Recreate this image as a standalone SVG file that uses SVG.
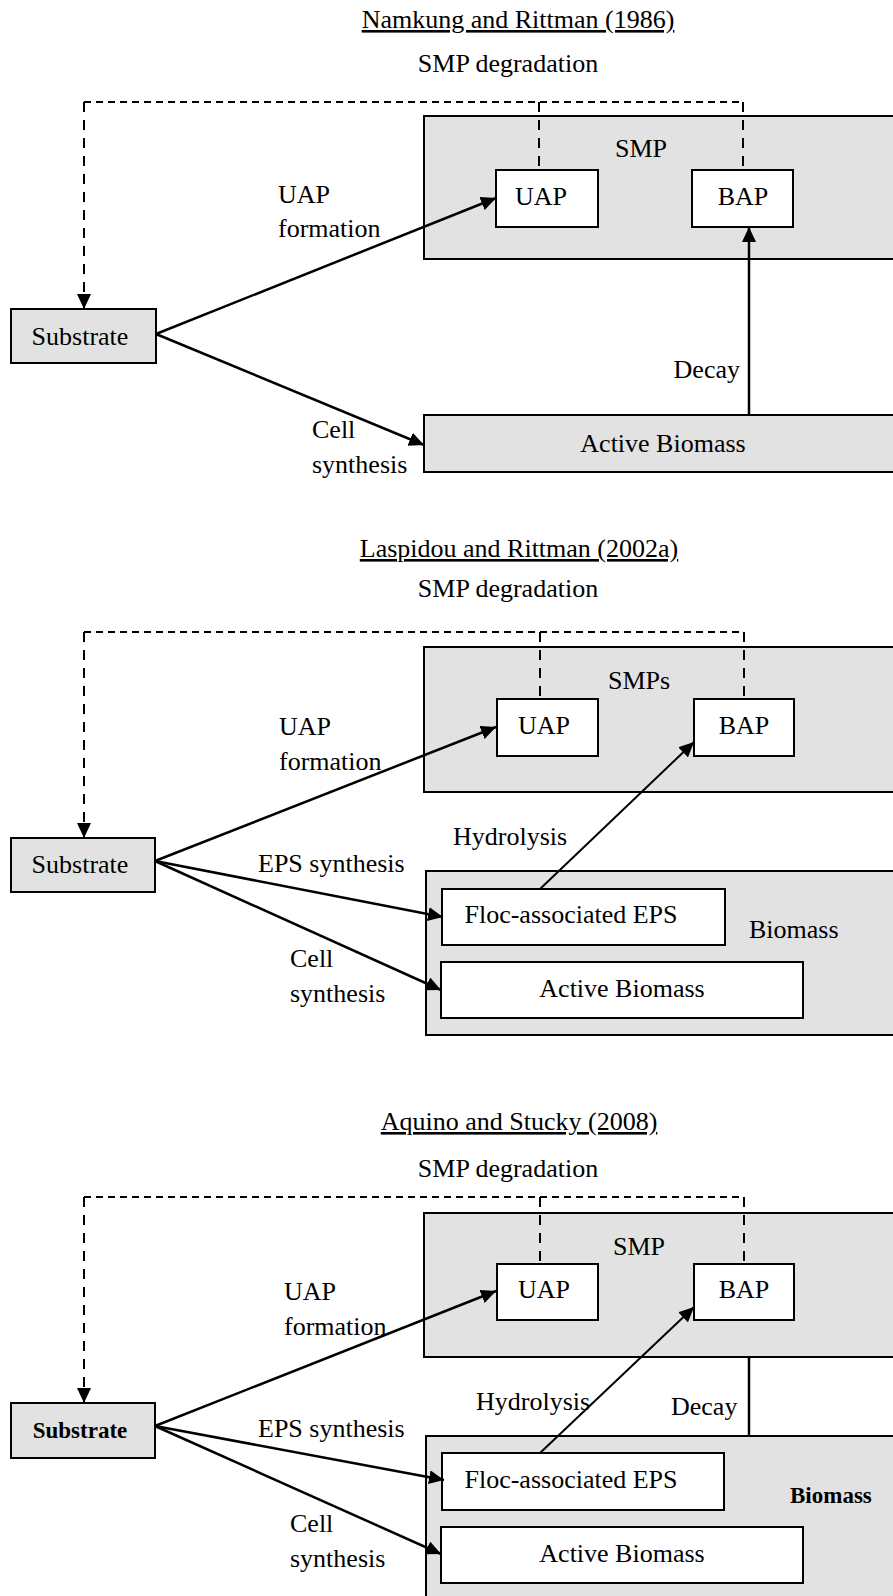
<svg xmlns="http://www.w3.org/2000/svg" width="893" height="1596" viewBox="0 0 893 1596">
<style>
text{font-family:"Liberation Serif","Times New Roman",serif;font-size:26px;fill:#000}
.m{text-anchor:middle}
.e{text-anchor:end}
.b{font-weight:bold;font-size:23px}
.u{text-decoration:underline}
.grp{fill:#e2e2e2;stroke:#000;stroke-width:2}
.wb{fill:#fff;stroke:#000;stroke-width:2}
.ar{fill:none;stroke:#000;stroke-width:2.5;marker-end:url(#ah)}
.ar2{fill:none;stroke:#000;stroke-width:2;marker-end:url(#ah)}
.ln{fill:none;stroke:#000;stroke-width:2.5}
.dh{fill:none;stroke:#000;stroke-width:2;stroke-dasharray:7 5}
.dv{fill:none;stroke:#000;stroke-width:2;stroke-dasharray:10 8}
.dva{fill:none;stroke:#000;stroke-width:2;stroke-dasharray:10 8;marker-end:url(#ah2)}
</style>
<defs>
<marker id="ah" markerUnits="userSpaceOnUse" markerWidth="16" markerHeight="14" refX="15" refY="7" orient="auto">
<path d="M0,0 L15,7 L0,14 z" fill="#000"/>
</marker>
<marker id="ah2" markerUnits="userSpaceOnUse" markerWidth="16" markerHeight="14" refX="15" refY="7" orient="auto">
<path d="M0,0 L15,7 L0,14 z" fill="#000"/>
</marker>
</defs>

<!-- Section 1: Namkung and Rittman (1986) -->
<g id="s1-title"><text class="m u" x="518" y="28">Namkung and Rittman (1986)</text></g>
<g id="s1-smpgroup"><rect class="grp" x="424" y="116" width="490" height="143"/><text class="m" x="641" y="157">SMP</text></g>
<g id="s1-uap"><rect class="wb" x="496" y="170" width="102" height="57"/><text class="m" x="541" y="205">UAP</text></g>
<g id="s1-bap"><rect class="wb" x="692" y="170" width="101" height="57"/><text class="m" x="743" y="205">BAP</text></g>
<g id="s1-substrate"><rect class="grp" x="11" y="309" width="145" height="54"/><text class="m" x="80" y="345">Substrate</text></g>
<g id="s1-active"><rect class="grp" x="424" y="415" width="490" height="57"/><text class="m" x="663" y="452">Active Biomass</text></g>
<g id="s1-connectors">
<path class="dh" d="M84,102 H743"/>
<path class="dv" d="M539,102 V170 M743,102 V170"/>
<path class="dva" d="M84,102 V309"/>
<path class="ar" d="M156,334 L496,198"/>
<path class="ar" d="M156,334 L424,445"/>
<path class="ar" d="M749,415 L749,227"/>
<text class="m" x="508" y="72">SMP degradation</text>
<text x="278" y="203">UAP</text>
<text x="278" y="237">formation</text>
<text x="312" y="438">Cell</text>
<text x="312" y="473">synthesis</text>
<text class="e" x="740" y="378">Decay</text>
</g>

<!-- Section 2: Laspidou and Rittman (2002a) -->
<g id="s2-title"><text class="m u" x="519" y="557">Laspidou and Rittman (2002a)</text></g>
<g id="s2-smpgroup"><rect class="grp" x="424" y="647" width="490" height="145"/><text class="m" x="639" y="689">SMPs</text></g>
<g id="s2-uap"><rect class="wb" x="497" y="699" width="101" height="57"/><text class="m" x="544" y="734">UAP</text></g>
<g id="s2-bap"><rect class="wb" x="694" y="699" width="100" height="57"/><text class="m" x="744" y="734">BAP</text></g>
<g id="s2-substrate"><rect class="grp" x="11" y="838" width="144" height="54"/><text class="m" x="80" y="873">Substrate</text></g>
<g id="s2-biomass"><rect class="grp" x="426" y="871" width="490" height="164"/><text x="749" y="938">Biomass</text></g>
<g id="s2-floc"><rect class="wb" x="442" y="889" width="283" height="56"/><text class="m" x="571" y="923">Floc-associated EPS</text></g>
<g id="s2-active"><rect class="wb" x="441" y="962" width="362" height="56"/><text class="m" x="622" y="997">Active Biomass</text></g>
<g id="s2-connectors">
<path class="dh" d="M84,632 H744"/>
<path class="dv" d="M540,632 V699 M744,632 V699"/>
<path class="dva" d="M84,632 V838"/>
<path class="ar" d="M155,861 L496,727"/>
<path class="ar" d="M155,861 L443,917"/>
<path class="ar" d="M155,861 L441,990"/>
<path class="ar2" d="M540,889 L694,742"/>
<text class="m" x="508" y="597">SMP degradation</text>
<text x="279" y="735">UAP</text>
<text x="279" y="770">formation</text>
<text x="453" y="845">Hydrolysis</text>
<text x="258" y="872">EPS synthesis</text>
<text x="290" y="967">Cell</text>
<text x="290" y="1002">synthesis</text>
</g>

<!-- Section 3: Aquino and Stucky (2008) -->
<g id="s3-title"><text class="m u" x="519" y="1130">Aquino and Stucky (2008)</text></g>
<g id="s3-smpgroup"><rect class="grp" x="424" y="1213" width="490" height="144"/><text class="m" x="639" y="1255">SMP</text></g>
<g id="s3-uap"><rect class="wb" x="497" y="1264" width="101" height="56"/><text class="m" x="544" y="1298">UAP</text></g>
<g id="s3-bap"><rect class="wb" x="694" y="1264" width="100" height="56"/><text class="m" x="744" y="1298">BAP</text></g>
<g id="s3-substrate"><rect class="grp" x="11" y="1403" width="144" height="55"/><text class="m b" x="80" y="1438">Substrate</text></g>
<g id="s3-biomass"><rect class="grp" x="426" y="1436" width="490" height="180"/><text class="b" x="790" y="1503">Biomass</text></g>
<g id="s3-floc"><rect class="wb" x="442" y="1453" width="282" height="57"/><text class="m" x="571" y="1488">Floc-associated EPS</text></g>
<g id="s3-active"><rect class="wb" x="441" y="1527" width="362" height="56"/><text class="m" x="622" y="1562">Active Biomass</text></g>
<g id="s3-connectors">
<path class="dh" d="M84,1197 H744"/>
<path class="dv" d="M540,1197 V1264 M744,1197 V1264"/>
<path class="dva" d="M84,1197 V1403"/>
<path class="ar" d="M155,1426 L496,1291"/>
<path class="ar" d="M155,1426 L444,1480"/>
<path class="ar" d="M155,1426 L441,1554"/>
<path class="ar2" d="M540,1453 L694,1307"/>
<path class="ln" d="M749,1357 V1436"/>
<text class="m" x="508" y="1177">SMP degradation</text>
<text x="284" y="1300">UAP</text>
<text x="284" y="1335">formation</text>
<text x="476" y="1410">Hydrolysis</text>
<text x="671" y="1415">Decay</text>
<text x="258" y="1437">EPS synthesis</text>
<text x="290" y="1532">Cell</text>
<text x="290" y="1567">synthesis</text>
</g>
</svg>
